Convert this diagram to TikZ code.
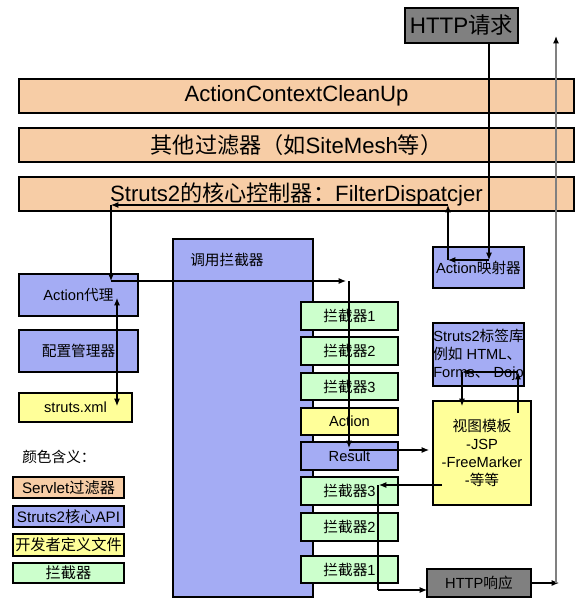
\documentclass[tikz,border=0pt]{standalone}
\usepackage{fontspec}
\setmainfont{Liberation Sans}
\newfontfamily\cjk{Noto Sans CJK SC}
\usetikzlibrary{arrows.meta}
\definecolor{peachc}{RGB}{247,205,166}
\definecolor{bluec}{RGB}{164,172,244}
\definecolor{yellowc}{RGB}{255,255,153}
\definecolor{greenc}{RGB}{204,255,204}
\definecolor{grayc}{RGB}{128,128,128}
\newcommand\zh[1]{{\cjk #1}}
\newcommand\fsS{\fontsize{11pt}{13.4pt}\selectfont}
\newcommand\fsM{\fontsize{11.4pt}{13.4pt}\selectfont}
\newcommand\fsL{\fontsize{16.6pt}{19pt}\selectfont}
\newcommand\fsH{\fontsize{16.8pt}{19pt}\selectfont}
% \boxat{name}{x1}{y1}{x2}{y2}{style}{text}
\newcommand\boxat[7]{\node[#6, minimum width={(#4-#2)*0.75pt}, minimum height={(#5-#3)*0.75pt}] (#1) at ({(#2+#4)/2},{(#3+#5)/2}) {#7};}
\tikzset{
  bx/.style={draw=black, line width=0.8pt, inner sep=0pt, font=\fsS},
  peach/.style={bx, fill=peachc},
  blu/.style={bx, fill=bluec},
  yel/.style={bx, fill=yellowc},
  grn/.style={bx, fill=greenc},
  gry/.style={bx, fill=grayc},
  conn/.style={line width=0.8pt, -{Latex[length=5.5pt,width=4.5pt]}},
  plain/.style={line width=0.8pt},
}
\begin{document}
\begin{tikzpicture}[x=0.75pt,y=-0.75pt]
\fill[white] (0,0) rectangle (582,613);
\useasboundingbox (0,0) rectangle (582,613);

% top
\boxat{http}{405}{8}{518}{43}{gry, font=\fsH}{HTTP\zh{请求}}
\boxat{cleanup}{19}{79}{574}{113}{peach, font=\fsL}{ActionContextCleanUp}
\boxat{other}{19}{128}{574}{162}{peach, font=\fsL}{\zh{其他过滤器（如}SiteMesh\zh{等）}}
\boxat{core}{19}{177}{574}{211}{peach, font=\fsL}{Struts2\zh{的核心控制器：}FilterDispatcjer}

% left column
\boxat{mapper}{433}{247}{524}{288}{blu}{Action\zh{映射器}}
\boxat{proxy}{19}{274}{138}{316}{blu}{Action\zh{代理}}
\boxat{config}{19}{330}{138}{372}{blu}{\zh{配置管理器}}
\boxat{xml}{19}{393}{132}{422}{yel}{struts.xml}

% invocation
\boxat{invoke}{173}{239}{313}{597}{blu}{}
\node[anchor=west, font=\fsS, inner sep=0pt] (invokelbl) at (190,260) {\zh{调用拦截器}};

\boxat{i1a}{301}{302}{398}{330}{grn}{\zh{拦截器}1}
\boxat{i2a}{301}{337}{398}{365}{grn}{\zh{拦截器}2}
\boxat{i3a}{301}{373}{398}{400}{grn}{\zh{拦截器}3}
\boxat{action}{301}{408}{398}{435}{yel}{Action}
\boxat{result}{301}{442}{398}{470}{blu}{Result}
\boxat{i3b}{301}{477}{398}{505}{grn}{\zh{拦截器}3}
\boxat{i2b}{301}{513}{398}{541}{grn}{\zh{拦截器}2}
\boxat{i1b}{301}{556}{398}{583}{grn}{\zh{拦截器}1}

% right column
\boxat{taglib}{433}{323}{524}{386}{blu, align=left}{Struts2\zh{标签库}\\\zh{例如} HTML\zh{、}\\Forms\zh{、} Dojo}
\boxat{view}{433}{401}{531}{505}{yel, align=center}{\zh{视图模板}\\-JSP\\-FreeMarker\\-\zh{等等}}
\boxat{resp}{427}{569}{531}{597}{gry}{HTTP\zh{响应}}

% legend
\node[anchor=west, font=\fsS, inner sep=0pt] (legendlbl) at (22,457) {\zh{颜色含义：}};
\boxat{lg1}{13}{477}{124}{498}{peach, font=\fsM}{Servlet\zh{过滤器}}
\boxat{lg2}{13}{506}{124}{527}{blu, font=\fsM}{Struts2\zh{核心}API}
\boxat{lg3}{13}{534}{124}{556}{yel, font=\fsM}{\zh{开发者定义文件}}
\boxat{lg4}{13}{563}{124}{583}{grn, font=\fsM}{\zh{拦截器}}

% connector bend points
\coordinate (j1) at (489,260);
\coordinate (j2) at (448,260);
\coordinate (j3) at (448,205);
\coordinate (j4) at (111,205);
\coordinate (j5) at (111,281);
\coordinate (j6) at (346,281);
\coordinate (j6b) at (349,281);
\coordinate (j7) at (349,448);
\coordinate (j8) at (349,450);
\coordinate (j9) at (429,450);
\coordinate (k1) at (518,413);
\coordinate (k2) at (518,372);
\coordinate (k3) at (462,372);
\coordinate (k4) at (462,406);
\coordinate (m1) at (442,485);
\coordinate (m2) at (379,485);
\coordinate (m3) at (378,485);
\coordinate (m4) at (378,590);
\coordinate (m5) at (427,590);
\coordinate (n1) at (531,583);
\coordinate (n2) at (559,583);
\coordinate (n3) at (556,583);
\coordinate (n4) at (556,36);
\coordinate (x1) at (117,298);
\coordinate (x2) at (117,406);

% request flow
\draw[conn] (http.south -| j1) -- (j1);
\draw[conn] (j1) -- (j2);
\draw[conn] (j2) -- (j3);
\draw[conn] (j3) -- (j4);
\draw[conn] (j4) -- (j5);
\draw[conn] (j5) -- (j6);
\draw[conn] (j6b) -- (j7);
\draw[conn] (j8) -- (j9);
% proxy <-> struts.xml
\draw[line width=0.8pt, {Latex[length=5.5pt,width=4.5pt]}-{Latex[length=5.5pt,width=4.5pt]}] (x1) -- (x2);
% view <-> taglib
\draw[conn] (k1) -- (k2);
\draw[conn] (k2) -- (k3);
\draw[conn] (k3) -- (k4);
% response flow
\draw[conn] (m1) -- (m2);
\draw[plain] (m3) -- (m4);
\draw[conn] (m4) -- (m5);
\draw[conn] (resp.east |- n1) -- (n2);
\draw[line width=1pt, draw=grayc, -{Latex[length=5.5pt,width=4.5pt,color=black]}] (n3) -- (n4);
\end{tikzpicture}
\end{document}
